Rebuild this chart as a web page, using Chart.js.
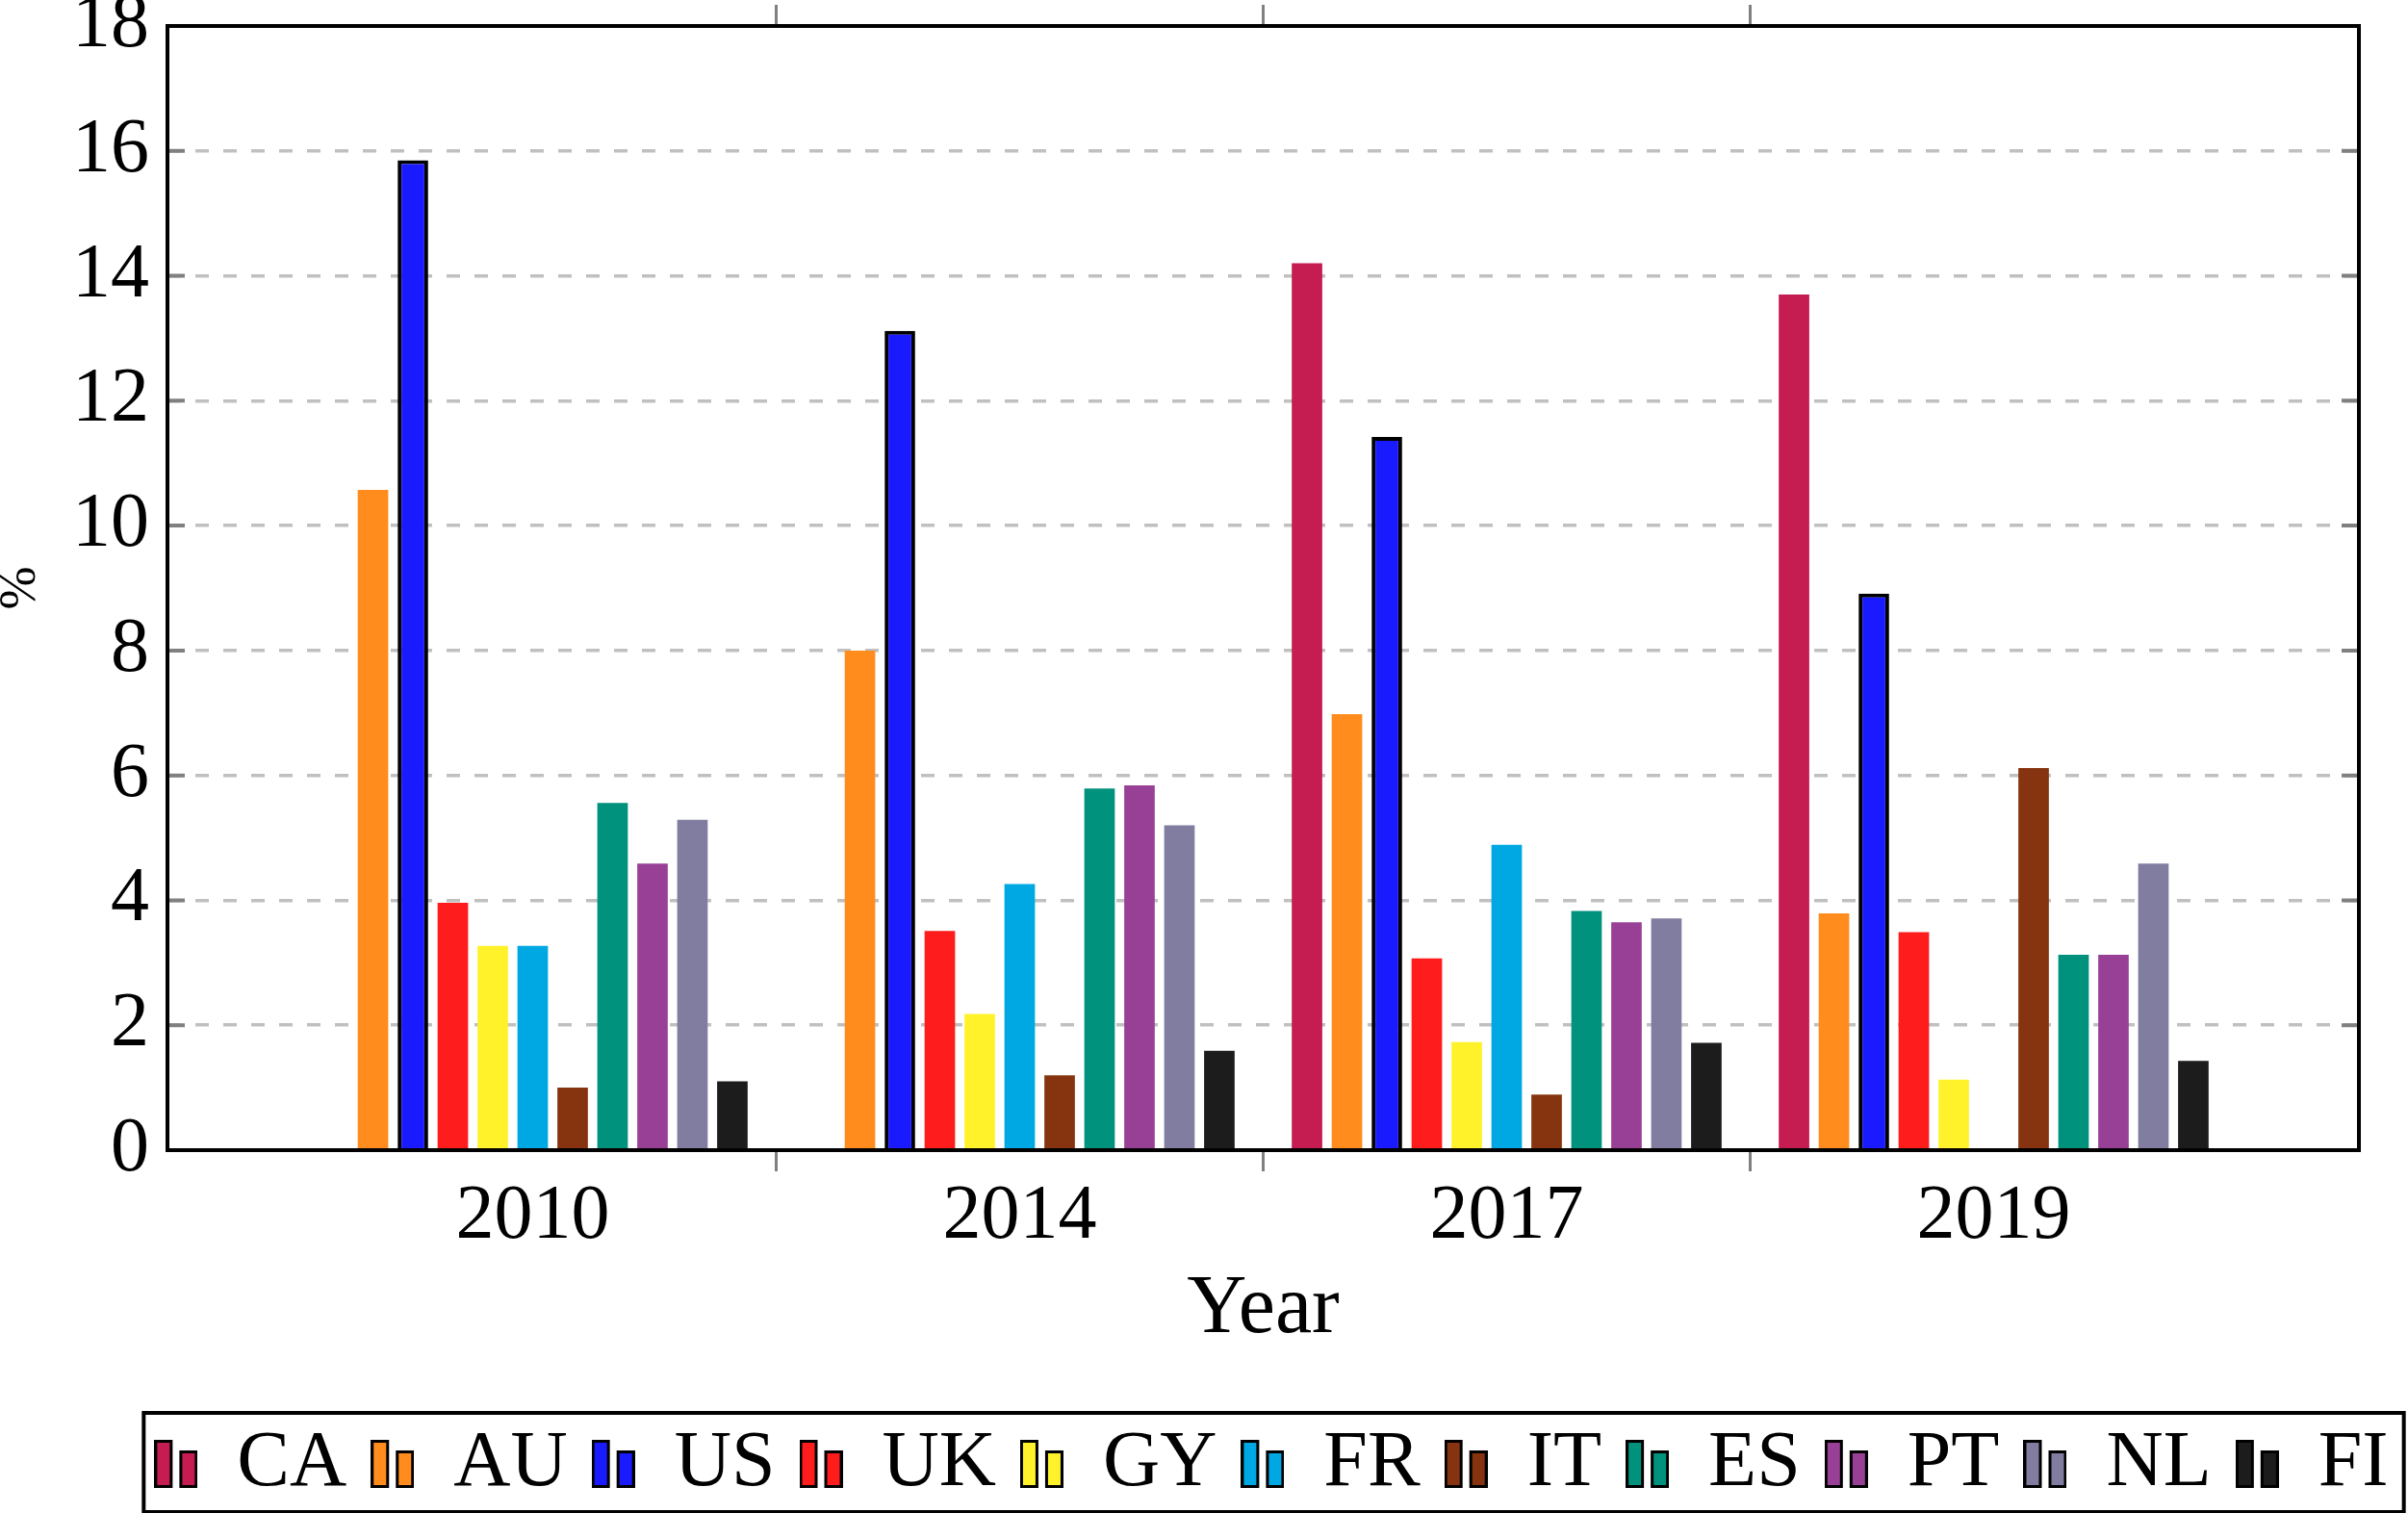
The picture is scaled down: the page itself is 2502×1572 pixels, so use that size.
<!DOCTYPE html>
<html>
<head>
<meta charset="utf-8">
<title>Year</title>
<script src="https://cdn.jsdelivr.net/npm/chart.js@4.4.0/dist/chart.umd.min.js"></script>
<style>
  html, body { margin: 0; padding: 0; background: #fff; }
</style>
</head>
<body>
<canvas id="chart" width="2502" height="1572"></canvas>
<script>
// values (%)
const years = ['2010', '2014', '2017', '2019'];
const countries = ['CA', 'AU', 'US', 'UK', 'GY', 'FR', 'IT', 'ES', 'PT', 'NL', 'FI'];
const caValues = [0, 0, 14.2, 13.7];
const auValues = [10.57, 8.0, 6.98, 3.79];
const usValues = [15.85, 13.12, 11.42, 8.91];
const ukValues = [3.96, 3.51, 3.07, 3.49];
const gyValues = [3.27, 2.18, 1.73, 1.13];
const frValues = [3.27, 4.26, 4.89, 0];
const itValues = [1.0, 1.2, 0.89, 6.12];
const esValues = [5.56, 5.79, 3.83, 3.13];
const ptValues = [4.59, 5.84, 3.65, 3.13];
const nlValues = [5.29, 5.2, 3.71, 4.59];
const fiValues = [1.1, 1.59, 1.72, 1.43];
const yTicks = [0, 2, 4, 6, 8, 10, 12, 14, 16, 18];

const series = [caValues, auValues, usValues, ukValues, gyValues, frValues, itValues, esValues, ptValues, nlValues, fiValues];
const colors = ['#C51C52', '#FF8C1C', '#1A1AFF', '#FF1C1C', '#FFF22A', '#00A8E3', '#85340F', '#00927C', '#984096', '#807DA0', '#1C1C1C'];

Chart.defaults.font.family = "'Liberation Serif', 'DejaVu Serif', serif";
Chart.defaults.color = '#000';

// pgfplots-style legend glyph: two small bars
function legendIcon(color) {
  const c = document.createElement('canvas');
  c.width = 45;
  c.height = 50;
  const g = c.getContext('2d');
  g.fillStyle = color;
  g.strokeStyle = '#000';
  g.lineWidth = 3;
  g.fillRect(1.5, 1.5, 16, 47);
  g.strokeRect(1.5, 1.5, 16, 47);
  g.fillRect(27.5, 12.5, 16, 36);
  g.strokeRect(27.5, 12.5, 16, 36);
  return c;
}
const icons = colors.map(legendIcon);

// year labels at integers, separator marks half way between
const xTickValues = years.flatMap((_, i) => i ? [i - 0.5, i] : [i]);
const setXTicks = s => { s.ticks = xTickValues.map(v => ({ value: v })); };
const sepColor = ctx => (ctx.tick && ctx.tick.value % 1 !== 0) ? '#808080' : 'rgba(0,0,0,0)';

const framePlugin = {
  id: 'frame',
  afterLayout(chart) {
    // legend sits a little right of the canvas centre in the reference
    const lg = chart.legend;
    const dx = 1321 - (lg.left + lg.right) / 2;
    lg.left += dx;
    lg.right += dx;
  },
  afterDatasetsDraw(chart) {
    const { ctx, chartArea: a, scales } = chart;
    ctx.save();
    ctx.strokeStyle = '#808080';
    ctx.lineWidth = 4;
    scales.y.ticks.forEach(t => {
      const py = scales.y.getPixelForValue(t.value);
      ctx.beginPath();
      ctx.moveTo(a.left, py);
      ctx.lineTo(a.left + 18, py);
      ctx.moveTo(a.right - 18, py);
      ctx.lineTo(a.right, py);
      ctx.stroke();
    });
    ctx.strokeStyle = '#000';
    ctx.lineWidth = 4;
    ctx.strokeRect(a.left, a.top, a.right - a.left, a.bottom - a.top);
    ctx.restore();
  },
  afterDraw(chart) {
    const hb = chart.legend.legendHitBoxes;
    if (!hb || !hb.length) return;
    const first = hb[0];
    const last = hb[hb.length - 1];
    const cy = first.top + first.height / 2;
    const ctx = chart.ctx;
    ctx.save();
    ctx.strokeStyle = '#000';
    ctx.lineWidth = 4;
    ctx.strokeRect(first.left - 11, cy - 53, last.left + last.width - first.left + 27, 103);
    ctx.restore();
  }
};

new Chart(document.getElementById('chart').getContext('2d'), {
  type: 'bar',
  data: {
    datasets: countries.map((c, k) => ({
      label: c,
      data: years.map((_, i) => ({ x: i, y: series[k][i] })),
      backgroundColor: colors[k],
      borderColor: '#000',
      borderWidth: c === 'US' ? 4 : 0,
      // the half-way separator ticks halve the bar ruler, hence > 1
      categoryPercentage: 1.804,
      barPercentage: 0.764
    }))
  },
  options: {
    responsive: false,
    animation: false,
    devicePixelRatio: 1,
    layout: { padding: { top: 5, right: 51, left: 0, bottom: 0 } },
    plugins: {
      tooltip: { enabled: false },
      legend: {
        position: 'bottom',
        labels: {
          usePointStyle: true,
          pointStyleWidth: 45,
          padding: 25,
          color: '#000',
          font: { size: 82 },
          generateLabels: chart => Chart.defaults.plugins.legend.labels.generateLabels(chart)
            .map((item, i) => ({ ...item, pointStyle: icons[i], lineWidth: 0 }))
        }
      }
    },
    scales: {
      x: {
        type: 'linear',
        min: -0.75,
        max: 3.75,
        offset: false,
        afterBuildTicks: setXTicks,
        afterFit: s => { s.height = 260; },
        ticks: {
          autoSkip: false,
          maxRotation: 0,
          padding: 0,
          font: { size: 80 },
          callback: v => Number.isInteger(v) ? years[v] : ''
        },
        grid: { offset: false, drawOnChartArea: false, tickLength: 22, lineWidth: 3, color: sepColor },
        border: { display: false },
        title: { display: true, text: 'Year', font: { size: 86 }, padding: { top: 0, bottom: 42 } }
      },
      x2: {
        type: 'linear',
        position: 'top',
        min: -0.75,
        max: 3.75,
        offset: false,
        afterBuildTicks: setXTicks,
        ticks: { display: false },
        grid: { offset: false, drawOnChartArea: false, tickLength: 22, lineWidth: 3, color: sepColor },
        border: { display: false }
      },
      y: {
        min: 0,
        max: 18,
        afterBuildTicks: s => { s.ticks = yTicks.map(v => ({ value: v })); },
        afterFit: s => { s.width = 174; s.paddingTop = 0; s.paddingBottom = 0; },
        ticks: { padding: 19, font: { size: 80 } },
        grid: {
          drawTicks: false,
          lineWidth: 3.5,
          color: ctx => (ctx.tick && (ctx.tick.value === 0 || ctx.tick.value === 18)) ? 'rgba(0,0,0,0)' : '#c0c0c0'
        },
        border: { display: false, dash: [14, 15] },
        title: { display: true, text: '%', font: { size: 54, lineHeight: 0.8 }, padding: 0 }
      }
    }
  },
  plugins: [framePlugin]
});
</script>
</body>
</html>
